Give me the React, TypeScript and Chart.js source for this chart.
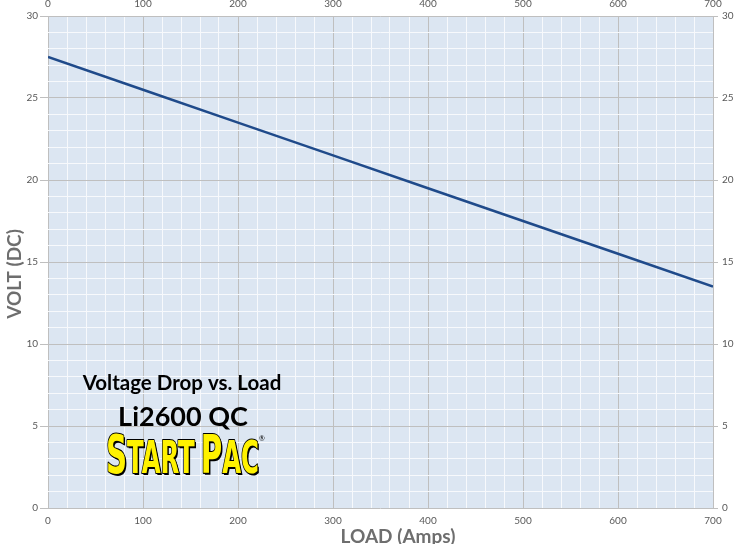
import React, { useEffect, useRef } from "react";
import { Chart, registerables } from "chart.js";

Chart.register(...registerables);

// ---- data ----
const loadAmps = [0, 100, 200, 300, 400, 500, 600, 700];
const voltsDC = [27.5, 25.5, 23.5, 21.5, 19.5, 17.5, 15.5, 13.5];

const xMin = 0;
const xMax = 700;
const xMajorStep = 100;
const xMinorStep = 20;
const yMin = 0;
const yMax = 30;
const yMajorStep = 5;
const yMinorStep = 1;

const xTitle = "LOAD (Amps)";
const yTitle = "VOLT (DC)";
const overlayLine1 = "Voltage Drop vs. Load";
const overlayLine2 = "Li2600 QC";
const logoParts = ["S", "TART", " ", "P", "AC"];

// ---- styles ----
const PLOT_BG = "#DCE6F2";
const MAJOR = "#BFBFBF";
const MINOR = "#F7F9FC";
const LABEL = "#595959";
const TITLE = "#6E6E6E";
const LINE = "#1F4A8A";
const TICK_FONT = { family: "Lato, 'Open Sans', sans-serif", size: 10 };

const isMajor = (v: number, step: number) => Math.abs(v % step) < 1e-9;

const bgPlugin = {
  id: "plotBg",
  beforeDraw(chart: any) {
    const { ctx, chartArea: a } = chart;
    ctx.save();
    ctx.fillStyle = PLOT_BG;
    ctx.fillRect(a.left, a.top, a.right - a.left, a.bottom - a.top);
    ctx.restore();
  },
};

const textPlugin = {
  id: "overlayText",
  afterDraw(chart: any) {
    const { ctx } = chart;
    ctx.save();
    // axis titles
    ctx.fillStyle = TITLE;
    ctx.font = "bold 19px Lato, sans-serif";
    ctx.textAlign = "center";
    ctx.textBaseline = "alphabetic";
    ctx.fillText(xTitle, 398, 543);
    ctx.save();
    ctx.translate(21, 274);
    ctx.rotate(-Math.PI / 2);
    ctx.fillText(yTitle, 0, 0);
    ctx.restore();

    // overlay text
    ctx.fillStyle = "#000";
    ctx.font = "bold 20.5px Lato, sans-serif";
    ctx.fillText(overlayLine1, 182, 390);
    ctx.font = "bold 27px Lato, sans-serif";
    ctx.fillText(overlayLine2, 183, 426);

    // logo
    const bigFont = "bold 54px 'Liberation Sans Narrow', 'DejaVu Sans Condensed', 'DejaVu Sans', sans-serif";
    const smallFont = "bold 45px 'Liberation Sans Narrow', 'DejaVu Sans Condensed', 'DejaVu Sans', sans-serif";
    const fonts = logoParts.map((p, i) => (i === 0 || i === 3 ? bigFont : smallFont));
    const widths = logoParts.map((p, i) => {
      ctx.font = fonts[i];
      return p === " " ? 10 : ctx.measureText(p).width;
    });
    const total = widths.reduce((s, w) => s + w, 0);
    const left = 106;
    const right = 259;
    const sx = (right - left) / total;
    const base = 473;
    ctx.save();
    ctx.translate(left, base);
    ctx.scale(sx, 1);
    ctx.lineJoin = "round";
    ctx.textAlign = "left";
    let x = 0;
    logoParts.forEach((p, i) => {
      ctx.font = fonts[i];
      ctx.fillStyle = "#000";
      ctx.fillText(p, x + 2.5, 2);
      ctx.strokeStyle = "#000";
      ctx.lineWidth = 2.2;
      ctx.strokeText(p, x, 0);
      ctx.fillStyle = "#FFF200";
      ctx.fillText(p, x, 0);
      x += widths[i];
    });
    ctx.restore();
    ctx.fillStyle = "#000";
    ctx.font = "7px Lato, sans-serif";
    ctx.fillText("®", 262, 441);
    ctx.restore();
  },
};

export default function App() {
  const ref = useRef<HTMLCanvasElement>(null);
  useEffect(() => {
    if (!ref.current) return;
    const xLabel = (v: any) => (isMajor(Number(v), xMajorStep) ? String(v) : "");
    const yLabel = (v: any) => (isMajor(Number(v), yMajorStep) ? String(v) : "");
    const chart = new Chart(ref.current, {
      type: "line",
      data: {
        datasets: [
          {
            data: loadAmps.map((x, i) => ({ x, y: voltsDC[i] })),
            borderColor: LINE,
            borderWidth: 2.5,
            pointRadius: 0,
            fill: false,
            tension: 0,
            xAxisID: "x",
            yAxisID: "y",
          },
        ],
      },
      options: {
        animation: false,
        responsive: false,
        devicePixelRatio: 1,
        layout: { padding: 0 },
        plugins: { legend: { display: false }, tooltip: { enabled: false } },
        scales: {
          x: {
            type: "linear",
            position: "bottom",
            min: xMin,
            max: xMax,
            ticks: {
              stepSize: xMinorStep,
              autoSkip: false,
              maxRotation: 0,
              color: LABEL,
              font: TICK_FONT,
              padding: 4,
              callback: xLabel,
            },
            grid: {
              color: (c: any) => (c.tick && isMajor(c.tick.value, xMajorStep) ? MAJOR : MINOR),
              tickColor: "rgba(0,0,0,0)",
              tickLength: 3,
              lineWidth: 1,
            },
            border: { display: false },
            afterFit: (s: any) => {
              s.height = 36;
            },
          },
          x2: {
            type: "linear",
            axis: "x",
            position: "top",
            min: xMin,
            max: xMax,
            ticks: {
              stepSize: xMinorStep,
              autoSkip: false,
              maxRotation: 0,
              color: LABEL,
              font: TICK_FONT,
              padding: 3,
              callback: xLabel,
            },
            grid: { drawOnChartArea: false, tickColor: "rgba(0,0,0,0)", tickLength: 3 },
            border: { display: false },
            afterFit: (s: any) => {
              s.height = 16;
            },
          },
          y: {
            type: "linear",
            position: "left",
            min: yMin,
            max: yMax,
            ticks: {
              stepSize: yMinorStep,
              autoSkip: false,
              color: LABEL,
              font: TICK_FONT,
              padding: 2,
              callback: yLabel,
            },
            grid: {
              color: (c: any) => (c.tick && isMajor(c.tick.value, yMajorStep) ? MAJOR : MINOR),
              tickColor: (c: any) =>
                c.tick && isMajor(c.tick.value, yMajorStep) ? MAJOR : "rgba(0,0,0,0)",
              tickLength: 8,
              lineWidth: 1,
            },
            border: { display: false },
            afterFit: (s: any) => {
              s.width = 48;
            },
          },
          y2: {
            type: "linear",
            axis: "y",
            position: "right",
            min: yMin,
            max: yMax,
            ticks: {
              stepSize: yMinorStep,
              autoSkip: false,
              color: LABEL,
              font: TICK_FONT,
              padding: 4,
              callback: yLabel,
            },
            grid: {
              drawOnChartArea: false,
              tickColor: (c: any) =>
                c.tick && isMajor(c.tick.value, yMajorStep) ? MAJOR : "rgba(0,0,0,0)",
              tickLength: 5,
            },
            border: { display: false },
            afterFit: (s: any) => {
              s.width = 27;
            },
          },
        },
      },
      plugins: [bgPlugin, textPlugin],
    } as any);
    return () => chart.destroy();
  }, []);

  return (
    <div style={{ position: "fixed", left: 0, top: 0, width: 740, height: 544, background: "#fff" }}>
      <canvas ref={ref} width={740} height={544} style={{ display: "block" }} />
    </div>
  );
}
